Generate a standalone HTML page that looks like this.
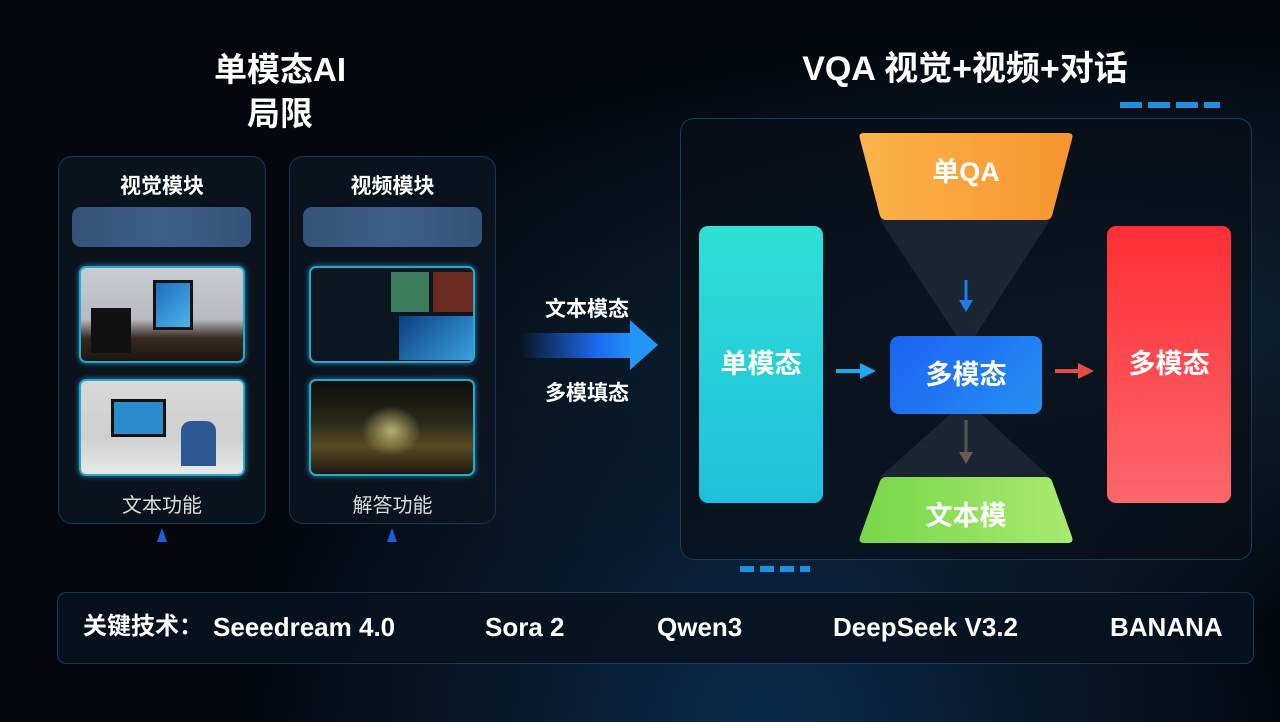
<!DOCTYPE html>
<html><head><meta charset="utf-8"><style>
*{margin:0;padding:0;box-sizing:border-box}
body{width:1280px;height:722px;overflow:hidden;background:#04070d;font-family:"Liberation Sans","Noto Sans CJK SC",sans-serif;color:#fff;position:relative}
.a{position:absolute}
.t{font-weight:bold;text-align:center}
.panel{border:1px solid #1c3550;border-radius:14px;background:rgba(12,20,32,.85)}
.bar{background:linear-gradient(90deg,#34537a,#3d5f88,#34537a);border-radius:9px}
.img{border:2px solid #2aa7c9;border-radius:7px;box-shadow:0 0 6px #1b8fb8}
.k{position:absolute;top:610px;font-size:26px;font-weight:bold;line-height:34px;white-space:nowrap}
</style></head><body>
<div class="a" style="left:0;top:0;width:1280px;height:722px;background:radial-gradient(ellipse at 85% 45%,#0d2436 0%,transparent 55%),radial-gradient(ellipse at 60% 100%,#0a2a4a 0%,transparent 50%)"></div>

<div class="a t" style="left:170px;top:48px;width:220px;font-size:33px;line-height:44px">单模态AI<br>局限</div>
<div class="a t" style="left:740px;top:48px;width:450px;font-size:34px;line-height:42px">VQA 视觉+视频+对话</div>

<div class="a panel" style="left:58px;top:156px;width:208px;height:368px"></div>
<div class="a panel" style="left:289px;top:156px;width:207px;height:368px"></div>
<div class="a t" style="left:58px;top:170px;width:208px;font-size:21px">视觉模块</div>
<div class="a t" style="left:289px;top:170px;width:207px;font-size:21px">视频模块</div>
<div class="a bar" style="left:72px;top:207px;width:179px;height:40px"></div>
<div class="a bar" style="left:303px;top:207px;width:179px;height:40px"></div>
<div class="a img" style="left:79px;top:266px;width:166px;height:97px;background:linear-gradient(180deg,#c9ccd0 0%,#b8bcc2 55%,#3a2a22 75%,#1c1512 100%)"><div class="a" style="left:72px;top:12px;width:40px;height:50px;background:linear-gradient(135deg,#1d6fc0,#4db3e8);border:3px solid #111"></div><div class="a" style="left:10px;top:40px;width:40px;height:45px;background:#111"></div></div>
<div class="a img" style="left:79px;top:379px;width:166px;height:97px;background:linear-gradient(180deg,#d8d8d8 0%,#cfcfcf 60%,#e8e8e8 100%)"><div class="a" style="left:30px;top:18px;width:55px;height:38px;background:#2b8ccc;border:3px solid #111"></div><div class="a" style="left:100px;top:40px;width:35px;height:45px;background:#2b5a92;border-radius:10px 10px 0 0"></div></div>
<div class="a img" style="left:309px;top:266px;width:166px;height:97px;background:#0b1620"><div class="a" style="left:80px;top:4px;width:38px;height:40px;background:#3b7a5a"></div><div class="a" style="left:122px;top:4px;width:40px;height:40px;background:#6b2a20"></div><div class="a" style="left:88px;top:48px;width:74px;height:44px;background:linear-gradient(135deg,#0b3f80,#3aa0e0)"></div></div>
<div class="a img" style="left:309px;top:379px;width:166px;height:97px;background:linear-gradient(180deg,#0c0c0c 0%,#2a2a1a 45%,#5a4a22 70%,#1c1a12 100%)"><div class="a" style="left:50px;top:25px;width:60px;height:50px;background:radial-gradient(#b8b070,transparent 70%)"></div></div>
<div class="a" style="left:58px;top:489px;width:208px;text-align:center;font-size:20px;color:#ddd">文本功能</div>
<div class="a" style="left:289px;top:489px;width:207px;text-align:center;font-size:20px;color:#ddd">解答功能</div>
<div class="a" style="left:157px;top:528px;width:0;height:0;border-left:5px solid transparent;border-right:5px solid transparent;border-bottom:14px solid #1f5fe0"></div>
<div class="a" style="left:387px;top:528px;width:0;height:0;border-left:5px solid transparent;border-right:5px solid transparent;border-bottom:14px solid #1f5fe0"></div>

<div class="a t" style="left:522px;top:293px;width:130px;font-size:21px">文本模态</div>
<div class="a t" style="left:522px;top:377px;width:130px;font-size:21px">多模填态</div>
<div class="a" style="left:520px;top:333px;width:112px;height:25px;background:linear-gradient(90deg,rgba(20,80,200,0),#1c6cf0 70%,#2590f5)"></div>
<div class="a" style="left:630px;top:320px;width:0;height:0;border-top:25px solid transparent;border-bottom:25px solid transparent;border-left:28px solid #2595f5"></div>

<div class="a" style="left:680px;top:118px;width:572px;height:442px;border:1px solid #1c3b55;border-radius:14px;background:rgba(8,14,22,.6)"></div>
<div class="a" style="left:1120px;top:102px;width:100px;height:6px;background:repeating-linear-gradient(90deg,#1f8fe0 0 22px,transparent 22px 28px)"></div>
<div class="a" style="left:740px;top:566px;width:70px;height:6px;background:repeating-linear-gradient(90deg,#1f8fe0 0 14px,transparent 14px 20px)"></div>

<svg class="a" style="left:0;top:0" width="1280" height="722">
<polygon points="880,220 1050,220 966,350" fill="rgba(160,170,190,0.12)"/>
<polygon points="966,400 880,477 1050,477" fill="rgba(160,170,190,0.12)"/>
<defs><linearGradient id="o" x1="0" x2="1"><stop offset="0" stop-color="#fbb34a"/><stop offset="1" stop-color="#f79530"/></linearGradient>
<linearGradient id="g" x1="0" x2="1"><stop offset="0" stop-color="#78d64a"/><stop offset="1" stop-color="#a8ea6e"/></linearGradient></defs>
<path d="M864,133 L1068,133 Q1074,133 1072,139 L1052,216 Q1050,220 1046,220 L886,220 Q882,220 880,216 L860,139 Q858,133 864,133Z" fill="url(#o)"/>
<path d="M886,477 L1046,477 Q1050,477 1052,481 L1072,537 Q1074,543 1068,543 L864,543 Q858,543 860,537 L880,481 Q882,477 886,477Z" fill="url(#g)"/>
<line x1="966" y1="280" x2="966" y2="304" stroke="#1f7be8" stroke-width="3"/><polygon points="959,300 973,300 966,312" fill="#1f7be8"/>
<line x1="966" y1="420" x2="966" y2="456" stroke="#555" stroke-width="3"/><polygon points="959,452 973,452 966,464" fill="#6a5a50"/>
<line x1="836" y1="371" x2="862" y2="371" stroke="#22a8ee" stroke-width="4"/><polygon points="860,363 876,371 860,379" fill="#22a8ee"/>
<line x1="1055" y1="371" x2="1080" y2="371" stroke="#e84a45" stroke-width="4"/><polygon points="1078,363 1094,371 1078,379" fill="#e84a45"/>
</svg>
<div class="a t" style="left:860px;top:150px;width:212px;font-size:27px">单QA</div>
<div class="a t" style="left:860px;top:494px;width:212px;font-size:27px">文本模</div>
<div class="a t" style="left:699px;top:226px;width:124px;height:277px;border-radius:9px;background:linear-gradient(180deg,#2ee0d6,#20bedc);font-size:27px;line-height:277px">单模态</div>
<div class="a t" style="left:1107px;top:226px;width:124px;height:277px;border-radius:9px;background:linear-gradient(180deg,#ff2e35,#fb676b);font-size:27px;line-height:277px">多模态</div>
<div class="a t" style="left:890px;top:336px;width:152px;height:78px;border-radius:9px;background:linear-gradient(135deg,#1c62f0,#2590f5);font-size:27px;line-height:78px">多模态</div>

<div class="a" style="left:57px;top:592px;width:1197px;height:72px;border:1px solid #1e3a52;border-radius:9px;background:rgba(8,18,32,.85)"></div>
<div class="k" style="left:83px;font-size:24px">关键技术：</div>
<div class="k" style="left:213px">Seeedream 4.0</div>
<div class="k" style="left:485px">Sora 2</div>
<div class="k" style="left:657px">Qwen3</div>
<div class="k" style="left:833px">DeepSeek V3.2</div>
<div class="k" style="left:1110px">BANANA</div>
</body></html>
